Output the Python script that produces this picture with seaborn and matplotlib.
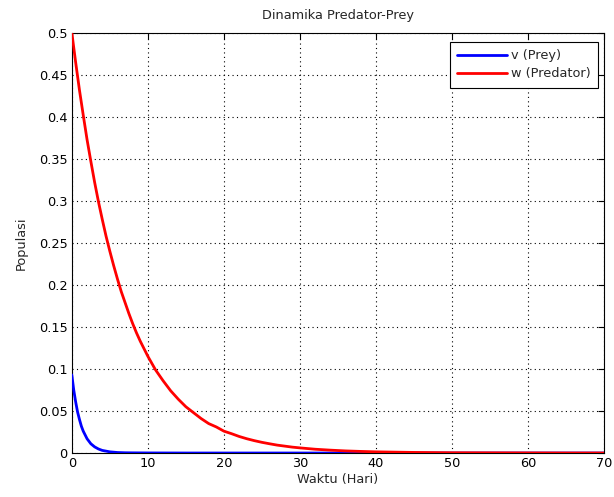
import numpy as np
import pandas as pd
import matplotlib
matplotlib.use("Agg")
import matplotlib.pyplot as plt
import seaborn as sns

# Time points (days) and population values
t_prey = [0, 0.25, 0.5, 0.75, 1, 1.25, 1.5, 2, 2.5, 3, 3.5, 4, 5, 6, 7, 8, 10, 15, 20, 30, 40, 50, 60, 70]
v_prey = [0.093, 0.075, 0.061, 0.049, 0.040, 0.032, 0.026, 0.017, 0.011, 0.0073, 0.0048, 0.0031,
          0.0014, 0.0006, 0.0003, 0.0002, 0.0001, 0.0, 0.0, 0.0, 0.0, 0.0, 0.0, 0.0]

t_pred = [0, 0.5, 1, 1.5, 2, 2.5, 3, 3.5, 4, 4.5, 5, 5.5, 6, 6.5, 7, 7.5, 8, 8.5, 9, 9.5, 10,
          11, 12, 13, 14, 15, 16, 17, 18, 19, 20, 21, 22, 23, 24, 25, 26, 27, 28, 29, 30,
          32, 34, 36, 38, 40, 45, 50, 55, 60, 65, 70]
w_pred = [0.500, 0.465, 0.432, 0.402, 0.373, 0.347, 0.322, 0.299, 0.278, 0.258, 0.240, 0.223,
          0.207, 0.192, 0.179, 0.166, 0.154, 0.143, 0.133, 0.124, 0.115,
          0.099, 0.086, 0.074, 0.064, 0.055, 0.048, 0.041, 0.035, 0.031, 0.026, 0.023, 0.0197,
          0.017, 0.0147, 0.0127, 0.011, 0.0094, 0.0082, 0.007, 0.0061,
          0.0045, 0.0034, 0.0025, 0.0019, 0.0014, 0.0007, 0.0003, 0.0002, 0.0001, 0.0, 0.0]

x_ticks = [0, 10, 20, 30, 40, 50, 60, 70]
y_ticks = [0, 0.05, 0.1, 0.15, 0.2, 0.25, 0.3, 0.35, 0.4, 0.45, 0.5]
y_tick_labels = ["0", "0.05", "0.1", "0.15", "0.2", "0.25", "0.3", "0.35", "0.4", "0.45", "0.5"]

sns.set_style("white")
plt.rcParams['font.family'] = ['DejaVu Sans']
FS = 9.3

df = pd.concat([
    pd.DataFrame({"Waktu": t_prey, "Populasi": v_prey, "Seri": "v (Prey)"}),
    pd.DataFrame({"Waktu": t_pred, "Populasi": w_pred, "Seri": "w (Predator)"}),
])

fig = plt.figure(figsize=(6.14, 4.97), dpi=100)
ax = fig.add_axes([0.117, 0.0885, 0.867, 0.8455])

sns.lineplot(data=df, x="Waktu", y="Populasi", hue="Seri",
             palette={"v (Prey)": "#0000ff", "w (Predator)": "#ff0000"},
             linewidth=2, ax=ax, zorder=3)

ax.set_xlim(0, 70)
ax.set_ylim(0, 0.5)
ax.set_xticks(x_ticks)
ax.set_yticks(y_ticks)
ax.set_yticklabels(y_tick_labels)
ax.grid(True, color="black", linestyle=(0, (1, 3)), linewidth=0.8)
ax.tick_params(direction="in", length=4, color="black", labelcolor="black",
               top=True, right=True, labelsize=FS, pad=3)
for s in ax.spines.values():
    s.set_color("black")
    s.set_linewidth(0.8)

ax.set_xlabel("Waktu (Hari)", fontsize=FS, labelpad=2)
ax.set_ylabel("Populasi", fontsize=FS, labelpad=8)
ax.set_title("Dinamika Predator-Prey", fontsize=FS, pad=10)

leg = ax.legend(loc="upper right", bbox_to_anchor=(0.9985, 0.99), fancybox=False,
                framealpha=1, edgecolor="black", fontsize=FS, handlelength=3.9,
                borderpad=0.55, labelspacing=0.4, handletextpad=0.3, borderaxespad=0.4)
leg.get_frame().set_linewidth(0.8)

fig.savefig("out.png", dpi=100)
